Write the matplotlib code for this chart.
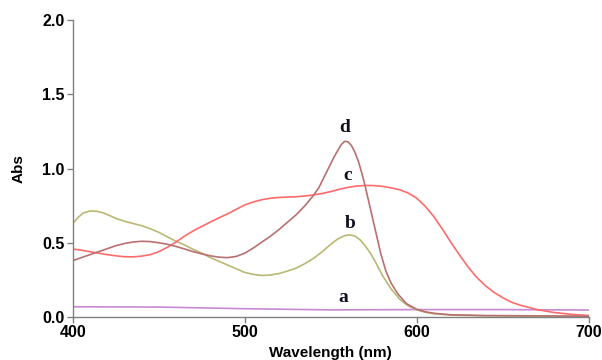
import matplotlib
matplotlib.use("Agg")
import matplotlib.pyplot as plt

# ---- data ----
wl_a = [400, 450, 500, 550, 600, 650, 700]
abs_a = [0.069, 0.067, 0.056, 0.048, 0.050, 0.050, 0.047]

wl_b = [400, 403, 406, 410, 414, 418, 422, 426, 430, 435, 440, 445, 450, 455, 460,
        465, 470, 475, 480, 485, 490, 495, 500, 505, 510, 515, 520, 525, 530, 535,
        540, 545, 550, 554, 558, 561, 564, 567, 570, 573, 576, 580, 585, 590, 595,
        600, 605, 610, 620, 640, 660, 700]
abs_b = [0.63, 0.67, 0.70, 0.714, 0.712, 0.70, 0.68, 0.66, 0.645, 0.63, 0.615, 0.595,
         0.57, 0.54, 0.51, 0.485, 0.455, 0.43, 0.40, 0.375, 0.35, 0.325, 0.30, 0.287,
         0.28, 0.283, 0.293, 0.31, 0.33, 0.36, 0.395, 0.44, 0.49, 0.525, 0.548, 0.553,
         0.545, 0.52, 0.48, 0.43, 0.37, 0.28, 0.19, 0.12, 0.075, 0.048, 0.032, 0.022,
         0.013, 0.008, 0.006, 0.005]

wl_c = [400, 405, 410, 415, 420, 425, 430, 435, 440, 445, 450, 455, 460, 465, 470,
        475, 480, 485, 490, 495, 500, 505, 510, 515, 520, 525, 530, 535, 540, 545,
        550, 555, 560, 565, 570, 575, 580, 585, 590, 595, 600, 605, 610, 615, 620,
        625, 630, 635, 640, 645, 650, 655, 660, 670, 680, 690, 700]
abs_c = [0.458, 0.45, 0.44, 0.43, 0.42, 0.412, 0.406, 0.405, 0.41, 0.42, 0.44, 0.47,
         0.505, 0.545, 0.58, 0.61, 0.64, 0.668, 0.695, 0.725, 0.755, 0.775, 0.79, 0.80,
         0.805, 0.808, 0.81, 0.815, 0.822, 0.832, 0.845, 0.86, 0.873, 0.882, 0.886,
         0.885, 0.88, 0.87, 0.857, 0.835, 0.80, 0.745, 0.675, 0.59, 0.50, 0.415, 0.335,
         0.265, 0.21, 0.165, 0.13, 0.10, 0.08, 0.05, 0.03, 0.018, 0.01]

wl_d = [400, 405, 410, 415, 420, 425, 430, 435, 440, 445, 450, 455, 460, 465, 470,
        475, 480, 485, 490, 495, 500, 505, 510, 515, 520, 525, 530, 535, 540, 543,
        546, 549, 552, 554, 556, 558, 560, 562, 564, 566, 568, 570, 572, 574, 576,
        579, 582, 585, 589, 594, 600, 605, 610, 620, 640, 670, 700]
abs_d = [0.38, 0.40, 0.42, 0.44, 0.46, 0.48, 0.495, 0.505, 0.51, 0.508, 0.50, 0.49,
         0.475, 0.458, 0.44, 0.425, 0.412, 0.403, 0.40, 0.408, 0.43, 0.465, 0.505,
         0.545, 0.59, 0.64, 0.69, 0.75, 0.82, 0.87, 0.94, 1.01, 1.08, 1.12, 1.16, 1.183,
         1.18, 1.155, 1.11, 1.05, 0.97, 0.88, 0.78, 0.68, 0.58, 0.43, 0.31, 0.23,
         0.155, 0.09, 0.052, 0.035, 0.025, 0.015, 0.010, 0.008, 0.005]

series_labels = ["a", "b", "c", "d"]
label_pos_x = [557, 561, 560, 558]
label_pos_y = [0.075, 0.57, 0.895, 1.22]

x_ticks = [400, 500, 600, 700]
y_ticks = [0.0, 0.5, 1.0, 1.5, 2.0]
y_ticklabels = ["0.0", "0.5", "1.0", "1.5", "2.0"]

colors = ["#c68ad2", "#b9b874", "#ff6b6b", "#b87070"]

fig = plt.figure(figsize=(6.02, 3.6), dpi=100)
ax = fig.add_axes([0.121, 0.1194, 0.857, 0.825])

for (wl, ab), col in zip([(wl_a, abs_a), (wl_b, abs_b), (wl_c, abs_c), (wl_d, abs_d)], colors):
    ax.plot(wl, ab, color=col, lw=1.2, solid_joinstyle="round")

for lab, lx, ly in zip(series_labels, label_pos_x, label_pos_y):
    ax.text(lx, ly, lab, family="Liberation Serif", fontweight="bold", fontsize=14,
            ha="center", va="bottom", color="#101020")

ax.set_xlim(400, 700)
ax.set_ylim(0, 2.0)
ax.set_xticks(x_ticks)
ax.set_yticks(y_ticks)
ax.set_yticklabels(y_ticklabels)

for s in ["top", "right"]:
    ax.spines[s].set_visible(False)
for s in ["left", "bottom"]:
    ax.spines[s].set_color("#808080")
    ax.spines[s].set_linewidth(1.0)

ax.tick_params(axis="both", direction="out", length=4, width=1, color="#808080",
               labelsize=11.5, pad=2)
for t in ax.get_xticklabels() + ax.get_yticklabels():
    t.set_family("Liberation Sans")
    t.set_fontweight("bold")

ax.set_xlabel("Wavelength (nm)", family="Liberation Sans", fontweight="bold",
              fontsize=11, labelpad=4)
ax.set_ylabel("Abs", family="Liberation Sans", fontweight="bold", fontsize=11,
              labelpad=12)

fig.savefig("out.png", dpi=100)
